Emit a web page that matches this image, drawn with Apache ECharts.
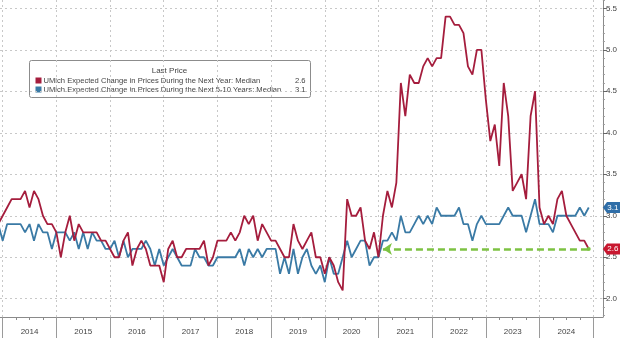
<!DOCTYPE html>
<html><head><meta charset="utf-8">
<script src="https://cdn.jsdelivr.net/npm/echarts@6/dist/echarts.min.js"></script>
<style>html,body{margin:0;padding:0;background:#fff}#c{width:620px;height:338px}</style>
</head><body><div id="c"></div>
<script>
// ---- data ----
const startMonth = '2013-11';   // first observation (monthly, plotted at month end)
const oneYear = [
  2.9, 3.0,
  3.1,3.2,3.2,3.2,3.3,3.1,3.3,3.2,3.0,2.9,2.9,2.8,
  2.5,2.8,3.0,2.7,2.9,2.8,2.8,2.8,2.8,2.7,2.7,2.6,
  2.5,2.5,2.7,2.8,2.4,2.6,2.7,2.6,2.4,2.4,2.4,2.2,
  2.6,2.7,2.5,2.5,2.6,2.6,2.6,2.6,2.7,2.4,2.5,2.7,
  2.7,2.7,2.8,2.7,2.8,3.0,2.9,3.0,2.7,2.9,2.8,2.7,
  2.7,2.6,2.5,2.5,2.9,2.7,2.6,2.7,2.8,2.5,2.5,2.3,
  2.5,2.4,2.2,2.1,3.2,3.0,3.0,3.1,2.7,2.6,2.8,2.5,
  3.0,3.3,3.1,3.4,4.6,4.2,4.7,4.6,4.6,4.8,4.9,4.8,
  4.9,4.9,5.4,5.4,5.3,5.3,5.2,4.8,4.7,5.0,5.0,4.4,
  3.9,4.1,3.6,4.6,4.2,3.3,3.4,3.5,3.2,4.2,4.5,3.1,
  2.9,3.0,2.9,3.2,3.3,3.0,2.9,2.8,2.7,2.7,2.6
];
const fiveTenYear = [
  2.9, 2.7,
  2.9,2.9,2.9,2.9,2.8,2.9,2.7,2.9,2.8,2.8,2.6,2.8,
  2.8,2.8,2.7,2.8,2.6,2.8,2.6,2.8,2.7,2.7,2.6,2.6,
  2.7,2.5,2.7,2.5,2.6,2.6,2.6,2.7,2.6,2.4,2.6,2.4,
  2.5,2.6,2.5,2.4,2.4,2.4,2.6,2.5,2.5,2.4,2.4,2.5,
  2.5,2.5,2.5,2.5,2.6,2.4,2.6,2.5,2.6,2.5,2.6,2.6,
  2.6,2.3,2.5,2.3,2.6,2.3,2.5,2.6,2.4,2.3,2.4,2.2,
  2.5,2.3,2.3,2.5,2.7,2.5,2.6,2.7,2.7,2.4,2.5,2.5,
  2.7,2.7,2.8,2.7,3.0,2.8,2.8,2.9,3.0,2.9,3.0,2.9,
  3.1,3.0,3.0,3.0,3.0,3.1,2.9,2.9,2.7,2.9,3.0,2.9,
  2.9,2.9,2.9,3.0,3.1,3.0,3.0,3.0,2.8,3.0,3.2,2.9,
  2.9,2.9,2.8,3.0,3.0,3.0,3.0,3.0,3.1,3.0,3.1
];
const seriesNames = [
  'UMich Expected Change in Prices During the Next Year: Median',
  'UMich Expected Change in Prices During the Next 5-10 Years: Median'
];
const legendTitle = 'Last Price';
const yearLabels = ['2014','2015','2016','2017','2018','2019','2020','2021','2022','2023','2024'];
const yearBounds = [2014,2015,2016,2017,2018,2019,2020,2021,2022,2023,2024,2025];
const yTickLabels = ['2.0','2.5','3.0','3.5','4.0','4.5','5.0','5.5'];
const arrowFrom = '2021-01';

// ---- build ----
const RED = '#a51d3d', BLUE = '#3a7aa5', GREEN = '#7dc243';
const monthPos = s => { const [y, m] = s.split('-').map(Number); return y + m / 12; };
const addMonths = (s, k) => { const [y, m] = s.split('-').map(Number); const t = y * 12 + (m - 1) + k; return Math.floor(t / 12) + '-' + String(t % 12 + 1).padStart(2, '0'); };
const months = oneYear.map((_, i) => addMonths(startMonth, i));
const redData = months.map((d, i) => [monthPos(d), oneYear[i]]);
const blueData = months.map((d, i) => [monthPos(d), fiveTenYear[i]]);
const lastX = monthPos(months[months.length - 1]);
const lastRed = oneYear[oneYear.length - 1];
const lastBlue = fiveTenYear[fiveTenYear.length - 1];

const X_MIN = 2013.95, X_MAX = 2025.18;
const Y_MIN = 1.78, Y_MAX = 5.6;
const FONT = 'Liberation Sans';
const yVals = yTickLabels.map(Number);
const yMinor = []; for (let v = 18; v <= 56; v++) if (v % 5) yMinor.push(v / 10);
const xQuarters = []; yearBounds.slice(0, -1).forEach(y => [0.25, 0.5, 0.75].forEach(q => xQuarters.push(y + q)));
const yearMid = yearLabels.map(y => Number(y) + 0.5);

const badge = 'path://M0,6 L5,0 L22,0 L22,12 L5,12 Z';

const chart = echarts.init(document.getElementById('c'), null, { renderer: 'canvas' });
chart.setOption({
  animation: false,
  backgroundColor: '#fff',
  textStyle: { fontFamily: FONT },
  grid: { left: 0, right: 17, top: 0, bottom: 21, containLabel: false },
  xAxis: [{
    type: 'value', min: X_MIN, max: X_MAX, position: 'bottom',
    axisLine: { show: true, lineStyle: { color: '#8a8a8a', width: 1 } },
    axisTick: { show: true, customValues: yearBounds, length: 22, lineStyle: { color: '#9a9a9a' } },
    axisLabel: { show: true, customValues: yearMid, formatter: v => String(Math.floor(v)), fontSize: 8, color: '#444', margin: 11, fontFamily: FONT },
    splitLine: { show: true, lineStyle: { color: '#c8c8c8', type: [2, 3], width: 1 } }
  }, {
    type: 'value', min: X_MIN, max: X_MAX, position: 'bottom',
    axisLine: { show: false },
    axisTick: { show: true, customValues: xQuarters, length: 3, lineStyle: { color: '#8a8a8a' } },
    axisLabel: { show: false }, splitLine: { show: false }
  }],
  yAxis: [{
    type: 'value', min: Y_MIN, max: Y_MAX, position: 'right',
    axisLine: { show: true, lineStyle: { color: '#8a8a8a', width: 1 } },
    axisTick: { show: true, customValues: yVals, length: 4, lineStyle: { color: '#666' } },
    axisLabel: { show: true, customValues: yVals, formatter: v => v.toFixed(1), fontSize: 8, color: '#444', margin: 3, fontFamily: FONT },
    splitLine: { show: true, lineStyle: { color: '#c8c8c8', type: [2, 3], width: 1 } }
  }, {
    type: 'value', min: Y_MIN, max: Y_MAX, position: 'right',
    axisLine: { show: false },
    axisTick: { show: true, customValues: yMinor, length: 2, lineStyle: { color: '#999' } },
    axisLabel: { show: false }, splitLine: { show: false }
  }],
  series: [{
    name: seriesNames[0], type: 'line', data: redData, showSymbol: false, clip: true,
    lineStyle: { color: RED, width: 1.8 }, itemStyle: { color: RED }, z: 3,
    markLine: {
      silent: true, animation: false, symbolSize: [9, 9],
      lineStyle: { color: GREEN, width: 2.6, type: [7, 4] },
      label: { show: false },
      data: [[
        { coord: [monthPos(arrowFrom), lastRed], symbol: 'arrow', symbolSize: 9 },
        { coord: [lastX, lastRed], symbol: 'circle', symbolSize: 4 }
      ]]
    },
    markPoint: {
      silent: true, animation: false,
      data: [{ coord: [X_MAX, lastRed], value: lastRed }],
      symbol: badge, symbolSize: [18, 11], symbolOffset: [9, 0], symbolKeepAspect: false,
      itemStyle: { color: '#c8172f' },
      label: { show: true, position: 'inside', formatter: p => p.value.toFixed(1), color: '#fff', fontSize: 8, fontFamily: FONT, offset: [1, 0] }
    }
  }, {
    name: seriesNames[1], type: 'line', data: blueData, showSymbol: false, clip: true,
    lineStyle: { color: BLUE, width: 1.8 }, itemStyle: { color: BLUE }, z: 2,
    markPoint: {
      silent: true, animation: false,
      data: [{ coord: [X_MAX, lastBlue], value: lastBlue }],
      symbol: badge, symbolSize: [18, 11], symbolOffset: [9, 0],
      itemStyle: { color: '#2f6ea8' },
      label: { show: true, position: 'inside', formatter: p => p.value.toFixed(1), color: '#fff', fontSize: 8, fontFamily: FONT, offset: [1, 0] }
    }
  }],
  graphic: [{
    type: 'group', left: 29, top: 60, children: [
      { type: 'rect', shape: { x: 0, y: 0, width: 281, height: 37, r: 2 }, style: { fill: '#fff', stroke: '#8c8c8c', lineWidth: 1 } },
      { type: 'text', x: 140, y: 6, style: { text: legendTitle, fontSize: 8, fill: '#444', align: 'center', fontFamily: FONT } },
      { type: 'rect', shape: { x: 6, y: 17, width: 6, height: 6 }, style: { fill: RED } },
      { type: 'text', x: 14, y: 16, style: { text: seriesNames[0], fontSize: 7.6, fill: '#444', fontFamily: FONT } },
      { type: 'text', x: 276, y: 16, style: { text: lastRed.toFixed(1), fontSize: 7.6, fill: '#444', align: 'right', fontFamily: FONT } },
      { type: 'rect', shape: { x: 6, y: 26, width: 6, height: 6 }, style: { fill: BLUE } },
      { type: 'text', x: 14, y: 25, style: { text: seriesNames[1], fontSize: 7.6, fill: '#444', fontFamily: FONT } },
      { type: 'text', x: 276, y: 25, style: { text: lastBlue.toFixed(1), fontSize: 7.6, fill: '#444', align: 'right', fontFamily: FONT } }
    ]
  }]
});
</script>
</body></html>
